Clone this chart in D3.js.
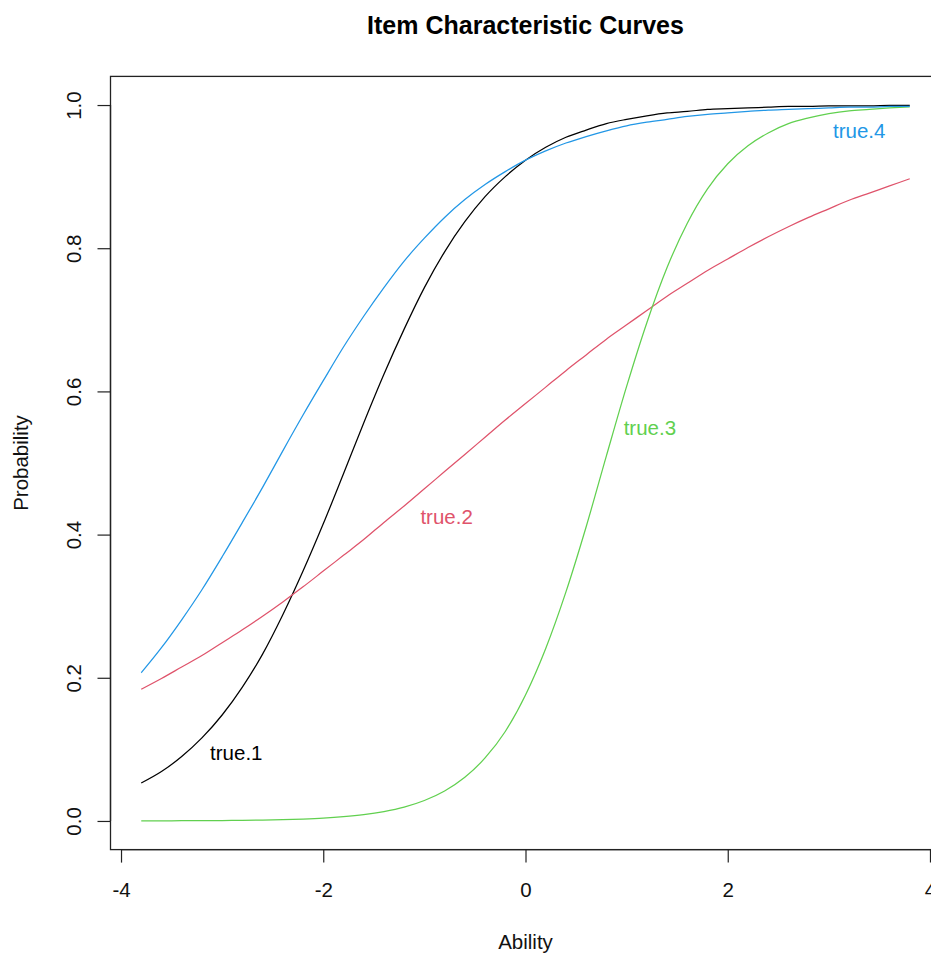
<!DOCTYPE html>
<html>
<head>
<meta charset="utf-8">
<script src="https://cdn.jsdelivr.net/npm/d3@7"></script>
<style>
  body { margin: 0; background: #fff; }
  svg { display: block; font-family: "Liberation Sans", Arial, sans-serif; }
</style>
</head>
<body>
<svg id="chart" width="931" height="956"></svg>
<script>
// ability grid (step 0.2)
const ability = [-3.8, -3.6, -3.4, -3.2, -3.0, -2.8, -2.6, -2.4, -2.2, -2.0,
    -1.8, -1.6, -1.4, -1.2, -1.0, -0.8, -0.6, -0.4, -0.2, 0.0,
    0.2, 0.4, 0.6, 0.8, 1.0, 1.2, 1.4, 1.6, 1.8, 2.0,
    2.2, 2.4, 2.6, 2.8, 3.0, 3.2, 3.4, 3.6, 3.8]

const true1 = [0.053, 0.069, 0.090, 0.116, 0.148, 0.187, 0.233, 0.288, 0.349, 0.415,
    0.485, 0.556, 0.624, 0.687, 0.745, 0.795, 0.837, 0.872, 0.900, 0.923,
    0.941, 0.955, 0.965, 0.974, 0.980, 0.985, 0.989, 0.991, 0.994, 0.995,
    0.996, 0.997, 0.998, 0.998, 0.999, 0.999, 0.999, 0.9995, 0.9996]

const true2 = [0.184, 0.199, 0.215, 0.231, 0.249, 0.267, 0.286, 0.306, 0.327, 0.349,
    0.371, 0.393, 0.417, 0.440, 0.464, 0.488, 0.512, 0.536, 0.560, 0.583,
    0.606, 0.629, 0.651, 0.673, 0.693, 0.713, 0.733, 0.751, 0.769, 0.785,
    0.801, 0.816, 0.830, 0.843, 0.855, 0.867, 0.877, 0.887, 0.897]

const true3 = [0.0001, 0.0002, 0.0003, 0.0004, 0.0006, 0.0008, 0.0012, 0.0018, 0.0027, 0.0040,
    0.0060, 0.0089, 0.0132, 0.0194, 0.0286, 0.0419, 0.0610, 0.0880, 0.125, 0.176,
    0.241, 0.320, 0.411, 0.510, 0.607, 0.696, 0.773, 0.835, 0.883, 0.918,
    0.943, 0.961, 0.974, 0.982, 0.988, 0.992, 0.994, 0.996, 0.9975]

const true4 = [0.207, 0.242, 0.281, 0.323, 0.369, 0.417, 0.466, 0.517, 0.567, 0.615,
    0.662, 0.705, 0.745, 0.782, 0.814, 0.843, 0.868, 0.889, 0.907, 0.923,
    0.936, 0.947, 0.956, 0.964, 0.971, 0.976, 0.980, 0.984, 0.987, 0.989,
    0.991, 0.993, 0.994, 0.995, 0.996, 0.997, 0.997, 0.998, 0.998]

const seriesNames = ["true.1", "true.2", "true.3", "true.4"]
const seriesColors = ["#000000", "#DF536B", "#61D04F", "#2297E6"]
// where the item labels sit, in data units
const labelX = [-2.86, -0.78, 1.23, 3.30]
const labelY = [0.095, 0.425, 0.549, 0.964]

const xTicks = [-4, -2, 0, 2, 4]
const yTicks = [0.0, 0.2, 0.4, 0.6, 0.8, 1.0]

const svg = d3.select("#chart")
const fontSize = 20.5

// R pads the data range by 4% on each side
const x = d3.scaleLinear()
    .domain([-4.104, 4.104])
    .range([110.5, 940.5])

const y = d3.scaleLinear()
    .domain([-0.04, 1.04])
    .range([849.6, 76.4])

// plot box
svg.append("rect")
    .attr("x", x(-4.104))
    .attr("y", y(1.04))
    .attr("width", x(4.104) - x(-4.104))
    .attr("height", y(-0.04) - y(1.04))
    .attr("fill", "none")
    .attr("stroke", "#222")
    .attr("stroke-width", 1.3)

const xAxis = d3.axisBottom(x)
    .tickValues(xTicks)
    .tickSize(13)
    .tickPadding(20)
    .tickFormat(d => String(d))

const gx = svg.append("g")
    .attr("transform", `translate(0, ${y(-0.04)})`)
    .call(xAxis)
gx.select(".domain")
    .attr("d", `M${x(-4)},0H${x(4)}`)
    .attr("stroke", "#222")
    .attr("stroke-width", 1.3)
gx.selectAll(".tick line").attr("stroke", "#222").attr("stroke-width", 1.2)
gx.selectAll(".tick text")
    .attr("font-size", fontSize)
    .attr("fill", "#111")
    .style("font-family", "Liberation Sans, Arial, sans-serif")

const yAxis = d3.axisLeft(y)
    .tickValues(yTicks)
    .tickSize(13)
    .tickFormat(d3.format(".1f"))

const gy = svg.append("g")
    .attr("transform", `translate(${x(-4.104)}, 0)`)
    .call(yAxis)
gy.select(".domain")
    .attr("d", `M0,${y(0)}V${y(1)}`)
    .attr("stroke", "#222")
    .attr("stroke-width", 1.3)
gy.selectAll(".tick line").attr("stroke", "#222").attr("stroke-width", 1.2)
gy.selectAll(".tick text")
    .attr("font-size", fontSize)
    .attr("fill", "#111")
    .attr("x", null)
    .attr("dy", null)
    .attr("text-anchor", "middle")
    .attr("transform", "translate(-30, 0) rotate(-90)")
    .style("font-family", "Liberation Sans, Arial, sans-serif")

const allSeries = [true1, true2, true3, true4]

const line = d3.line()
    .x((d, i) => x(ability[i]))
    .y(d => y(d))
    .curve(d3.curveMonotoneX)

svg.append("g")
    .selectAll("path")
    .data(allSeries)
    .join("path")
    .attr("d", d => line(d))
    .attr("fill", "none")
    .attr("stroke", (d, i) => seriesColors[i])
    .attr("stroke-width", 1.25)

svg.append("g")
    .selectAll("text")
    .data(seriesNames)
    .join("text")
    .attr("x", (d, i) => x(labelX[i]))
    .attr("y", (d, i) => y(labelY[i]))
    .attr("dy", "0.35em")
    .attr("text-anchor", "middle")
    .attr("font-size", fontSize)
    .attr("fill", (d, i) => seriesColors[i])
    .text(d => d)

// titles
svg.append("text")
    .attr("x", (x(-4.104) + x(4.104)) / 2)
    .attr("y", 25)
    .attr("dy", "0.35em")
    .attr("text-anchor", "middle")
    .attr("font-size", 25)
    .attr("font-weight", "bold")
    .attr("fill", "#000")
    .text("Item Characteristic Curves")

svg.append("text")
    .attr("x", (x(-4.104) + x(4.104)) / 2)
    .attr("y", 942)
    .attr("dy", "0.35em")
    .attr("text-anchor", "middle")
    .attr("font-size", fontSize)
    .attr("fill", "#111")
    .text("Ability")

svg.append("text")
    .attr("transform", `translate(21, ${(y(-0.04) + y(1.04)) / 2}) rotate(-90)`)
    .attr("dy", "0.35em")
    .attr("text-anchor", "middle")
    .attr("font-size", fontSize)
    .attr("fill", "#111")
    .text("Probability")
</script>
</body>
</html>
